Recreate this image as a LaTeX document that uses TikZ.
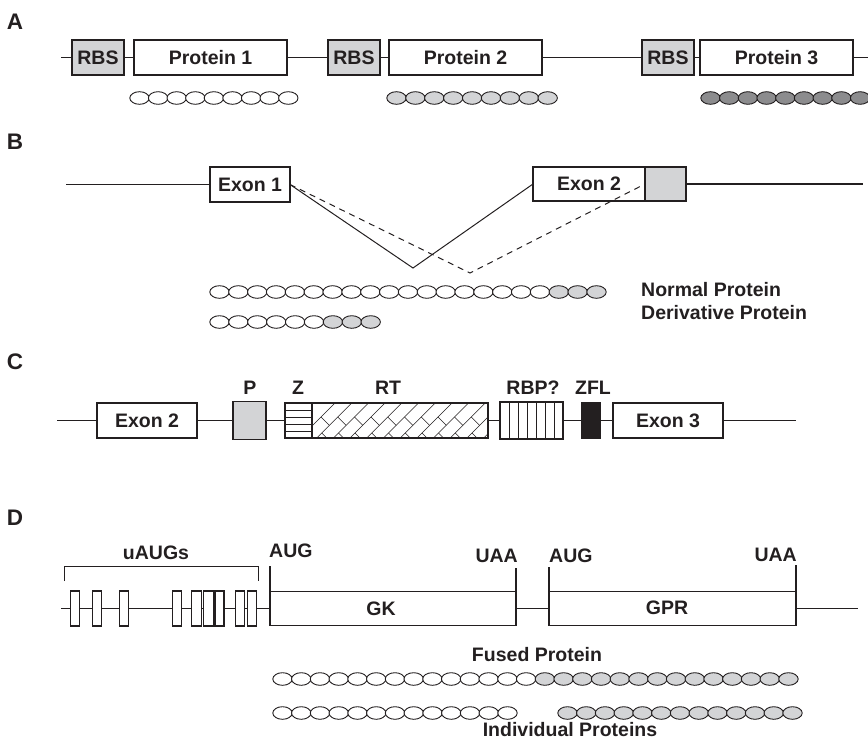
\documentclass[tikz,border=0pt]{standalone}
\usepackage{fontspec}
\setmainfont{Liberation Sans}
\definecolor{ink}{HTML}{231F20}
\definecolor{lgray}{HTML}{D3D4D6}
\definecolor{dgray}{HTML}{8C8C8E}
\begin{document}
\begin{tikzpicture}[x=1pt,y=-1pt,line join=miter,
  every node/.style={font=\fontsize{19.5}{23}\selectfont\bfseries, text=ink},
  box/.style={draw=ink, line width=1.2pt, fill=white, inner sep=0pt, outer sep=0pt},
  wire/.style={draw=ink, line width=1.2pt},
  ov/.style={draw=ink, line width=0.9pt},
  lbl/.style={inner sep=0pt},
  panel/.style={inner sep=0pt, font=\fontsize{22.5}{26}\selectfont\bfseries}]
\useasboundingbox (0,0) rectangle (868,747);

% ---------------- Panel A
\node[panel] (la) at (15,22) {A};
\node[box, fill=lgray, minimum width=52pt, minimum height=35pt] (rbs1) at (98,57.5) {RBS};
\node[box, minimum width=153pt, minimum height=35pt] (p1) at (210.5,57.5) {Protein 1};
\node[box, fill=lgray, minimum width=52pt, minimum height=35pt] (rbs2) at (354,57.5) {RBS};
\node[box, minimum width=153pt, minimum height=35pt] (p2) at (465.5,57.5) {Protein 2};
\node[box, fill=lgray, minimum width=52pt, minimum height=35pt] (rbs3) at (668,57.5) {RBS};
\node[box, minimum width=153pt, minimum height=35pt] (p3) at (776.5,57.5) {Protein 3};
\coordinate (aL) at (61,57.5); \coordinate (aR) at (868,57.5);
\draw[wire] (aL) -- (rbs1.west) (rbs1.east) -- (p1.west) (p1.east) -- (rbs2.west)
  (rbs2.east) -- (p2.west) (p2.east) -- (rbs3.west) (rbs3.east) -- (p3.west) (p3.east) -- (aR);
\foreach \i in {0,...,8} \draw[ov, fill=white] ({139.5+18.6*\i},98) ellipse [x radius=9.7pt, y radius=6.3pt];
\foreach \i in {0,...,8} \draw[ov, fill=lgray] ({396.5+18.9*\i},98) ellipse [x radius=9.7pt, y radius=6.3pt];
\foreach \i in {0,...,8} \draw[ov, fill=dgray] ({710.5+18.7*\i},98) ellipse [x radius=9.7pt, y radius=6.3pt];

% ---------------- Panel B
\node[panel] (lb) at (15,142) {B};
\node[box, minimum width=80pt, minimum height=35pt] (ex1) at (250,184.5) {Exon 1};
\node[box, minimum width=112pt, minimum height=34pt] (ex2) at (589,184) {Exon 2};
\node[box, fill=lgray, minimum width=41pt, minimum height=34pt] (gr) at (665.5,184) {};
\coordinate (bL) at (66,184.5); \coordinate (bR) at (863,184);
\draw[wire] (bL) -- (ex1.west) (gr.east) -- (bR);
\coordinate (v1) at (413,268); \coordinate (v2) at (470,273);
\draw[wire, line width=1pt] (ex1.east) -- (v1) -- (ex2.west);
\draw[wire, line width=1pt, dash pattern=on 6pt off 5pt] (ex1.east) -- (v2) -- (gr.west);
\foreach \i in {0,...,17} \draw[ov, fill=white] ({219.5+18.85*\i},292) ellipse [x radius=9.7pt, y radius=6.3pt];
\foreach \i in {18,...,20} \draw[ov, fill=lgray] ({219.5+18.85*\i},292) ellipse [x radius=9.7pt, y radius=6.3pt];
\foreach \i in {0,...,5} \draw[ov, fill=white] ({219.5+18.9*\i},322) ellipse [x radius=9.7pt, y radius=6.3pt];
\foreach \i in {6,...,8} \draw[ov, fill=lgray] ({219.5+18.9*\i},322) ellipse [x radius=9.7pt, y radius=6.3pt];
\node[lbl, anchor=west] (np) at (641,290) {Normal Protein};
\node[lbl, anchor=west] (dp) at (641,313) {Derivative Protein};

% ---------------- Panel C
\node[panel] (lc) at (15,362) {C};
\node[box, minimum width=100pt, minimum height=35pt] (cx2) at (147,420.5) {Exon 2};
\node[box, fill=lgray, minimum width=33pt, minimum height=38pt] (pp) at (249.5,420.5) {};
\node[box, minimum width=27pt, minimum height=35pt] (zz) at (298.5,420.5) {};
\node[box, minimum width=176pt, minimum height=35pt] (rt) at (400,420.5) {};
\node[box, minimum width=63pt, minimum height=37pt] (rbp) at (531.5,420.5) {};
\node[box, fill=ink, minimum width=18pt, minimum height=35pt] (zfl) at (591,420.5) {};
\node[box, minimum width=110pt, minimum height=35pt] (cx3) at (668,420.5) {Exon 3};
\coordinate (cL) at (57,420.5); \coordinate (cR) at (796,420.5);
\draw[wire] (cL) -- (cx2.west) (cx2.east) -- (pp.west) (pp.east) -- (zz.west)
  (rt.east) -- (rbp.west) (rbp.east) -- (zfl.west) (zfl.east) -- (cx3.west) (cx3.east) -- (cR);
\foreach \yy in {410,417,424,431} \draw[ink, line width=0.8pt] (285,\yy) -- (312,\yy);
\foreach \k in {1,...,6} \draw[ink, line width=0.9pt] ({500+9*\k},402) -- ({500+9*\k},439);
\begin{scope}
  \clip (312,403) rectangle (488,438);
  \foreach \i in {0,...,12} {
    \draw[ink, line width=0.55pt] ({300+16.7*\i},438) -- ++(40,-40);
    \draw[ink, line width=0.55pt] ({300+16.7*\i+5},{438-5}) -- ++(8.35,8.35);
    \draw[ink, line width=0.55pt] ({300+16.7*\i+21},{438-21}) -- ++(8.35,8.35);
  }
\end{scope}
\draw[wire] (rt.north west) rectangle (rt.south east);
\draw[wire] (zz.north west) rectangle (zz.south east);
\node[lbl] (lp) at (250,388) {P};
\node[lbl] (lz) at (298,388) {Z};
\node[lbl] (lrt) at (388,388) {RT};
\node[lbl] (lrbp) at (533,388) {RBP?};
\node[lbl] (lzfl) at (593,388) {ZFL};

% ---------------- Panel D
\node[panel] (ld) at (15,518) {D};
\foreach \n/\cx/\w in {1/75/9, 2/97.2/9, 3/123.8/9, 4/177.2/9, 5/196.2/10, 6/208.3/10, 7/219.5/9, 8/239.7/9, 9/252/9}
  \node[box, minimum width=\w pt, minimum height=35pt] (u\n) at (\cx,608.5) {};
\node[box, minimum width=246pt, minimum height=34pt] (gk) at (393,608.5) {};
\node[box, minimum width=247pt, minimum height=34pt] (gpr) at (672.5,608.5) {};
\node[lbl] (gkl) at (381,609) {GK};
\node[lbl] (gprl) at (667,608) {GPR};
\coordinate (dL) at (61,608.5); \coordinate (dR) at (858,608.5);
\draw[wire] (dL) -- (u1.west) (u1.east) -- (u2.west) (u2.east) -- (u3.west) (u3.east) -- (u4.west)
  (u4.east) -- (u5.west) (u5.east) -- (u6.west) (u6.east) -- (u7.west) (u7.east) -- (u8.west)
  (u8.east) -- (u9.west) (u9.east) -- (gk.west);
\draw[wire] (gk.east) -- (gpr.west) (gpr.east) -- (dR);
\coordinate (t1) at (270,566); \coordinate (t2) at (516,568);
\coordinate (t3) at (549,567); \coordinate (t4) at (796,565);
\draw[wire] (gk.north west) -- (t1) (gk.north east) -- (t2) (gpr.north west) -- (t3) (gpr.north east) -- (t4);
\coordinate (br1) at (64,581); \coordinate (br2) at (64,566);
\coordinate (br3) at (258,566); \coordinate (br4) at (258,581);
\draw[wire, line width=1pt] (br1) -- (br2) -- (br3) -- (br4);
\node[lbl] (uaugs) at (156,553) {uAUGs};
\node[lbl, anchor=west] (aug1) at (269,551) {AUG};
\node[lbl, anchor=east] (uaa1) at (518,556) {UAA};
\node[lbl, anchor=west] (aug2) at (549,556) {AUG};
\node[lbl, anchor=east] (uaa2) at (797,555) {UAA};
\node[lbl] (fused) at (537,655) {Fused Protein};
\foreach \i in {0,...,13} \draw[ov, fill=white] ({282.5+18.74*\i},679) ellipse [x radius=9.7pt, y radius=6.3pt];
\foreach \i in {14,...,27} \draw[ov, fill=lgray] ({282.5+18.74*\i},679) ellipse [x radius=9.7pt, y radius=6.3pt];
\foreach \i in {0,...,12} \draw[ov, fill=white] ({282.5+18.75*\i},713) ellipse [x radius=9.7pt, y radius=6.3pt];
\foreach \i in {0,...,12} \draw[ov, fill=lgray] ({567.5+18.75*\i},713) ellipse [x radius=9.7pt, y radius=6.3pt];
\node[lbl] (indiv) at (570,730) {Individual Proteins};
\end{tikzpicture}
\end{document}
